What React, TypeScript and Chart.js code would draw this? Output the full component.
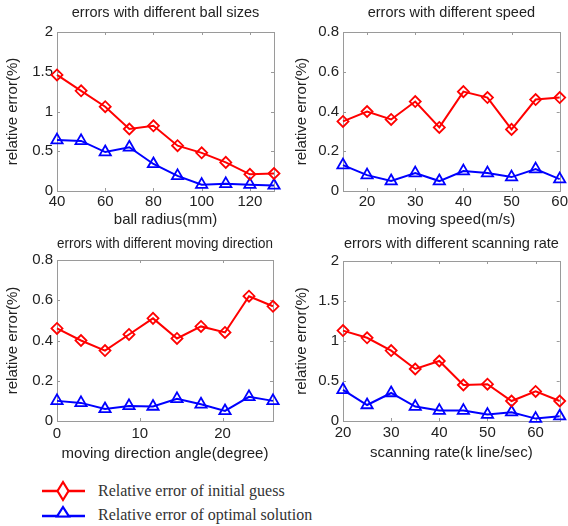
import React, { useEffect, useRef } from "react";
import { Chart, registerables } from "chart.js";

Chart.register(...registerables);

// ---------- data ----------
const ballRadius = [40, 50, 60, 70, 80, 90, 100, 110, 120, 130];
const ballInitial = [1.46, 1.26, 1.06, 0.78, 0.82, 0.57, 0.48, 0.36, 0.21, 0.22];
const ballOptimal = [0.64, 0.63, 0.49, 0.55, 0.34, 0.19, 0.08, 0.09, 0.08, 0.07];

const movingSpeed = [15, 20, 25, 30, 35, 40, 45, 50, 55, 60];
const speedInitial = [0.35, 0.40, 0.36, 0.45, 0.32, 0.50, 0.47, 0.31, 0.46, 0.47];
const speedOptimal = [0.13, 0.08, 0.05, 0.09, 0.05, 0.10, 0.09, 0.07, 0.11, 0.06];

const directionAngle = [0, 2.9, 5.8, 8.7, 11.6, 14.5, 17.4, 20.3, 23.2, 26.1];
const directionInitial = [0.46, 0.40, 0.35, 0.43, 0.51, 0.41, 0.47, 0.44, 0.62, 0.57];
const directionOptimal = [0.10, 0.09, 0.06, 0.075, 0.072, 0.11, 0.083, 0.05, 0.12, 0.10];

const scanningRate = [20, 25, 30, 35, 40, 45, 50, 55, 60, 65];
const scanInitial = [1.13, 1.04, 0.88, 0.65, 0.75, 0.45, 0.46, 0.25, 0.37, 0.25];
const scanOptimal = [0.39, 0.20, 0.35, 0.18, 0.13, 0.13, 0.08, 0.11, 0.03, 0.06];

const legendLabels = ["Relative error of initial guess", "Relative error of optimal solution"];
const yAxisLabel = "relative error(%)";

// ---------- styles ----------
const RED = "#ff0000";
const BLUE = "#0000ff";
const SANS = "'Liberation Sans', Arial, Helvetica, sans-serif";
const SERIF = "'Liberation Serif', 'Times New Roman', serif";
const TEXT = "#222222";

type Rect = { left: number; top: number; width: number; height: number };
type Area = { left: number; top: number; right: number; bottom: number };

type PanelSpec = {
  title: string;
  xTitle: string;
  xs: number[];
  red: number[];
  blue: number[];
  xMin: number;
  xMax: number;
  xStep: number;
  yMax: number;
  yStep: number;
  box: Rect;
  area: Area;
  titleCenter: number;
  tickGap: number;
  xTitleCenter: number;
  yTitleCenter: number;
};

const panels: PanelSpec[] = [
  {
    title: "errors with different ball sizes",
    xTitle: "ball radius(mm)",
    xs: ballRadius, red: ballInitial, blue: ballOptimal,
    xMin: 40, xMax: 130, xStep: 20, yMax: 2, yStep: 0.5,
    box: { left: 0, top: 0, width: 284, height: 232 },
    area: { left: 57, top: 32, right: 274, bottom: 191 },
    titleCenter: 13, tickGap: 2, xTitleCenter: 220, yTitleCenter: 13,
  },
  {
    title: "errors with different speed",
    xTitle: "moving speed(m/s)",
    xs: movingSpeed, red: speedInitial, blue: speedOptimal,
    xMin: 15, xMax: 60, xStep: 10, yMax: 0.8, yStep: 0.2,
    box: { left: 286, top: 0, width: 282, height: 232 },
    area: { left: 343, top: 32, right: 563, bottom: 191 },
    titleCenter: 13, tickGap: 2, xTitleCenter: 220, yTitleCenter: 302,
  },
  {
    title: "errors with different moving direction",
    xTitle: "moving direction angle(degree)",
    xs: directionAngle, red: directionInitial, blue: directionOptimal,
    xMin: 0, xMax: 26.1, xStep: 10, yMax: 0.8, yStep: 0.2,
    box: { left: 0, top: 230, width: 284, height: 236 },
    area: { left: 57, top: 260, right: 273, bottom: 421 },
    titleCenter: 244, tickGap: 4, xTitleCenter: 454, yTitleCenter: 13,
  },
  {
    title: "errors with different scanning rate",
    xTitle: "scanning rate(k line/sec)",
    xs: scanningRate, red: scanInitial, blue: scanOptimal,
    xMin: 20, xMax: 65, xStep: 10, yMax: 2, yStep: 0.5,
    box: { left: 286, top: 230, width: 282, height: 236 },
    area: { left: 343, top: 261, right: 562, bottom: 421 },
    titleCenter: 244, tickGap: 3, xTitleCenter: 453, yTitleCenter: 302,
  },
];

const framePlugin = {
  id: "matlabFrame",
  beforeDatasetsDraw(chart: any) {
    const { ctx, chartArea } = chart;
    const { left, right, top, bottom } = chartArea;
    const xs = chart.scales.x;
    const ys = chart.scales.y;
    const tl = 3;
    ctx.save();
    ctx.strokeStyle = "#9a9a9a";
    ctx.lineWidth = 1;
    ctx.strokeRect(Math.round(left) + 0.5, Math.round(top) + 0.5, Math.round(right - left), Math.round(bottom - top));
    ctx.beginPath();
    xs.ticks.forEach((t: any) => {
      const px = Math.round(xs.getPixelForValue(t.value)) + 0.5;
      ctx.moveTo(px, bottom);
      ctx.lineTo(px, bottom - tl);
      ctx.moveTo(px, top);
      ctx.lineTo(px, top + tl);
    });
    ys.ticks.forEach((t: any) => {
      const py = Math.round(ys.getPixelForValue(t.value)) + 0.5;
      ctx.moveTo(left, py);
      ctx.lineTo(left + tl, py);
      ctx.moveTo(right, py);
      ctx.lineTo(right - tl, py);
    });
    ctx.stroke();
    ctx.restore();
  },
};

const fmt = (v: any) => String(Number(Number(v).toFixed(3)));

function Panel({ spec }: { spec: PanelSpec }) {
  const ref = useRef<HTMLCanvasElement | null>(null);

  useEffect(() => {
    const canvas = ref.current;
    if (!canvas) return;
    const { box, area } = spec;
    const yAxisWidth = area.left - box.left;
    const xAxisHeight = box.top + box.height - area.bottom;
    const titleSize = 14.5;
    const titleLH = titleSize * 1.2;
    const axisTitleSize = 15;
    const axisLH = axisTitleSize * 1.2;
    const titlePadTop = spec.titleCenter - box.top - titleLH / 2;
    const titlePadBottom = area.top - box.top - titlePadTop - titleLH;
    const xTitlePadBottom = box.top + box.height - spec.xTitleCenter - axisLH / 2;
    const yTitlePadTop = spec.yTitleCenter - box.left - axisLH / 2;

    const chart = new Chart(canvas, {
      type: "scatter",
      data: {
        datasets: [
          {
            label: legendLabels[0],
            data: spec.xs.map((x, i) => ({ x, y: spec.red[i] })),
            showLine: true,
            borderColor: RED,
            borderWidth: 2,
            pointStyle: "rectRot",
            pointRadius: 5.5,
            pointBorderWidth: 1.8,
            pointBorderColor: RED,
            pointBackgroundColor: "rgba(255,255,255,0)",
            clip: false,
          } as any,
          {
            label: legendLabels[1],
            data: spec.xs.map((x, i) => ({ x, y: spec.blue[i] })),
            showLine: true,
            borderColor: BLUE,
            borderWidth: 2,
            pointStyle: "triangle",
            pointRadius: 6.5,
            pointBorderWidth: 1.8,
            pointBorderColor: BLUE,
            pointBackgroundColor: "rgba(255,255,255,0)",
            clip: false,
          } as any,
        ],
      },
      options: {
        responsive: false,
        maintainAspectRatio: false,
        animation: false,
        devicePixelRatio: 1,
        layout: {
          padding: { left: 0, top: 0, bottom: 0, right: box.left + box.width - area.right },
        },
        plugins: {
          legend: { display: false },
          tooltip: { enabled: false },
          title: {
            display: true,
            text: spec.title,
            fullSize: false,
            color: TEXT,
            font: { family: SANS, size: titleSize, weight: "normal" as any },
            padding: { top: titlePadTop, bottom: titlePadBottom },
          },
        },
        scales: {
          x: {
            type: "linear",
            min: spec.xMin,
            max: spec.xMax,
            grid: { display: false, drawTicks: false },
            border: { display: false },
            ticks: {
              stepSize: spec.xStep,
              includeBounds: false,
              autoSkip: false,
              maxRotation: 0,
              padding: spec.tickGap,
              color: TEXT,
              font: { family: SANS, size: 15 },
              callback: fmt,
            },
            title: {
              display: true,
              text: spec.xTitle,
              color: TEXT,
              font: { family: SANS, size: axisTitleSize },
              padding: { top: 0, bottom: xTitlePadBottom },
            },
            afterFit(s: any) {
              s.height = xAxisHeight;
              s.paddingLeft = 0;
              s.paddingRight = 0;
            },
          } as any,
          y: {
            type: "linear",
            min: 0,
            max: spec.yMax,
            grid: { display: false, drawTicks: false },
            border: { display: false },
            ticks: {
              stepSize: spec.yStep,
              autoSkip: false,
              padding: 4,
              color: TEXT,
              font: { family: SANS, size: 15 },
              callback: fmt,
            },
            title: {
              display: true,
              text: yAxisLabel,
              color: TEXT,
              font: { family: SANS, size: axisTitleSize },
              padding: { top: yTitlePadTop, bottom: 0 },
            },
            afterFit(s: any) {
              s.width = yAxisWidth;
            },
          } as any,
        },
      },
      plugins: [framePlugin],
    });
    return () => chart.destroy();
  }, [spec]);

  return (
    <canvas
      ref={ref}
      width={spec.box.width}
      height={spec.box.height}
      style={{
        position: "absolute",
        left: spec.box.left,
        top: spec.box.top,
        width: spec.box.width,
        height: spec.box.height,
        display: "block",
      }}
    />
  );
}

function Legend() {
  return (
    <>
      <svg
        width={120}
        height={60}
        style={{ position: "absolute", left: 0, top: 470, overflow: "visible" }}
      >
        <line x1={42} y1={21} x2={85} y2={21} stroke={RED} strokeWidth={2.5} />
        <polygon points="63,12 68.5,21 63,30 57.5,21" fill="white" stroke={RED} strokeWidth={2.2} />
        <line x1={42} y1={46} x2={85} y2={46} stroke={BLUE} strokeWidth={2.5} />
        <polygon points="63,37 69,46.5 57,46.5" fill="white" stroke={BLUE} strokeWidth={2.2} />
      </svg>
      <div
        style={{
          position: "absolute",
          left: 98,
          top: 481,
          fontFamily: SERIF,
          fontSize: 16,
          lineHeight: "20px",
          color: "#333",
          whiteSpace: "nowrap",
        }}
      >
        {legendLabels[0]}
      </div>
      <div
        style={{
          position: "absolute",
          left: 98,
          top: 505,
          fontFamily: SERIF,
          fontSize: 16,
          lineHeight: "20px",
          color: "#333",
          whiteSpace: "nowrap",
        }}
      >
        {legendLabels[1]}
      </div>
    </>
  );
}

export default function App() {
  return (
    <div
      style={{
        position: "fixed",
        left: 0,
        top: 0,
        width: 568,
        height: 526,
        overflow: "hidden",
        background: "#ffffff",
      }}
    >
      {panels.map((p) => (
        <Panel key={p.title} spec={p} />
      ))}
      <Legend />
    </div>
  );
}
